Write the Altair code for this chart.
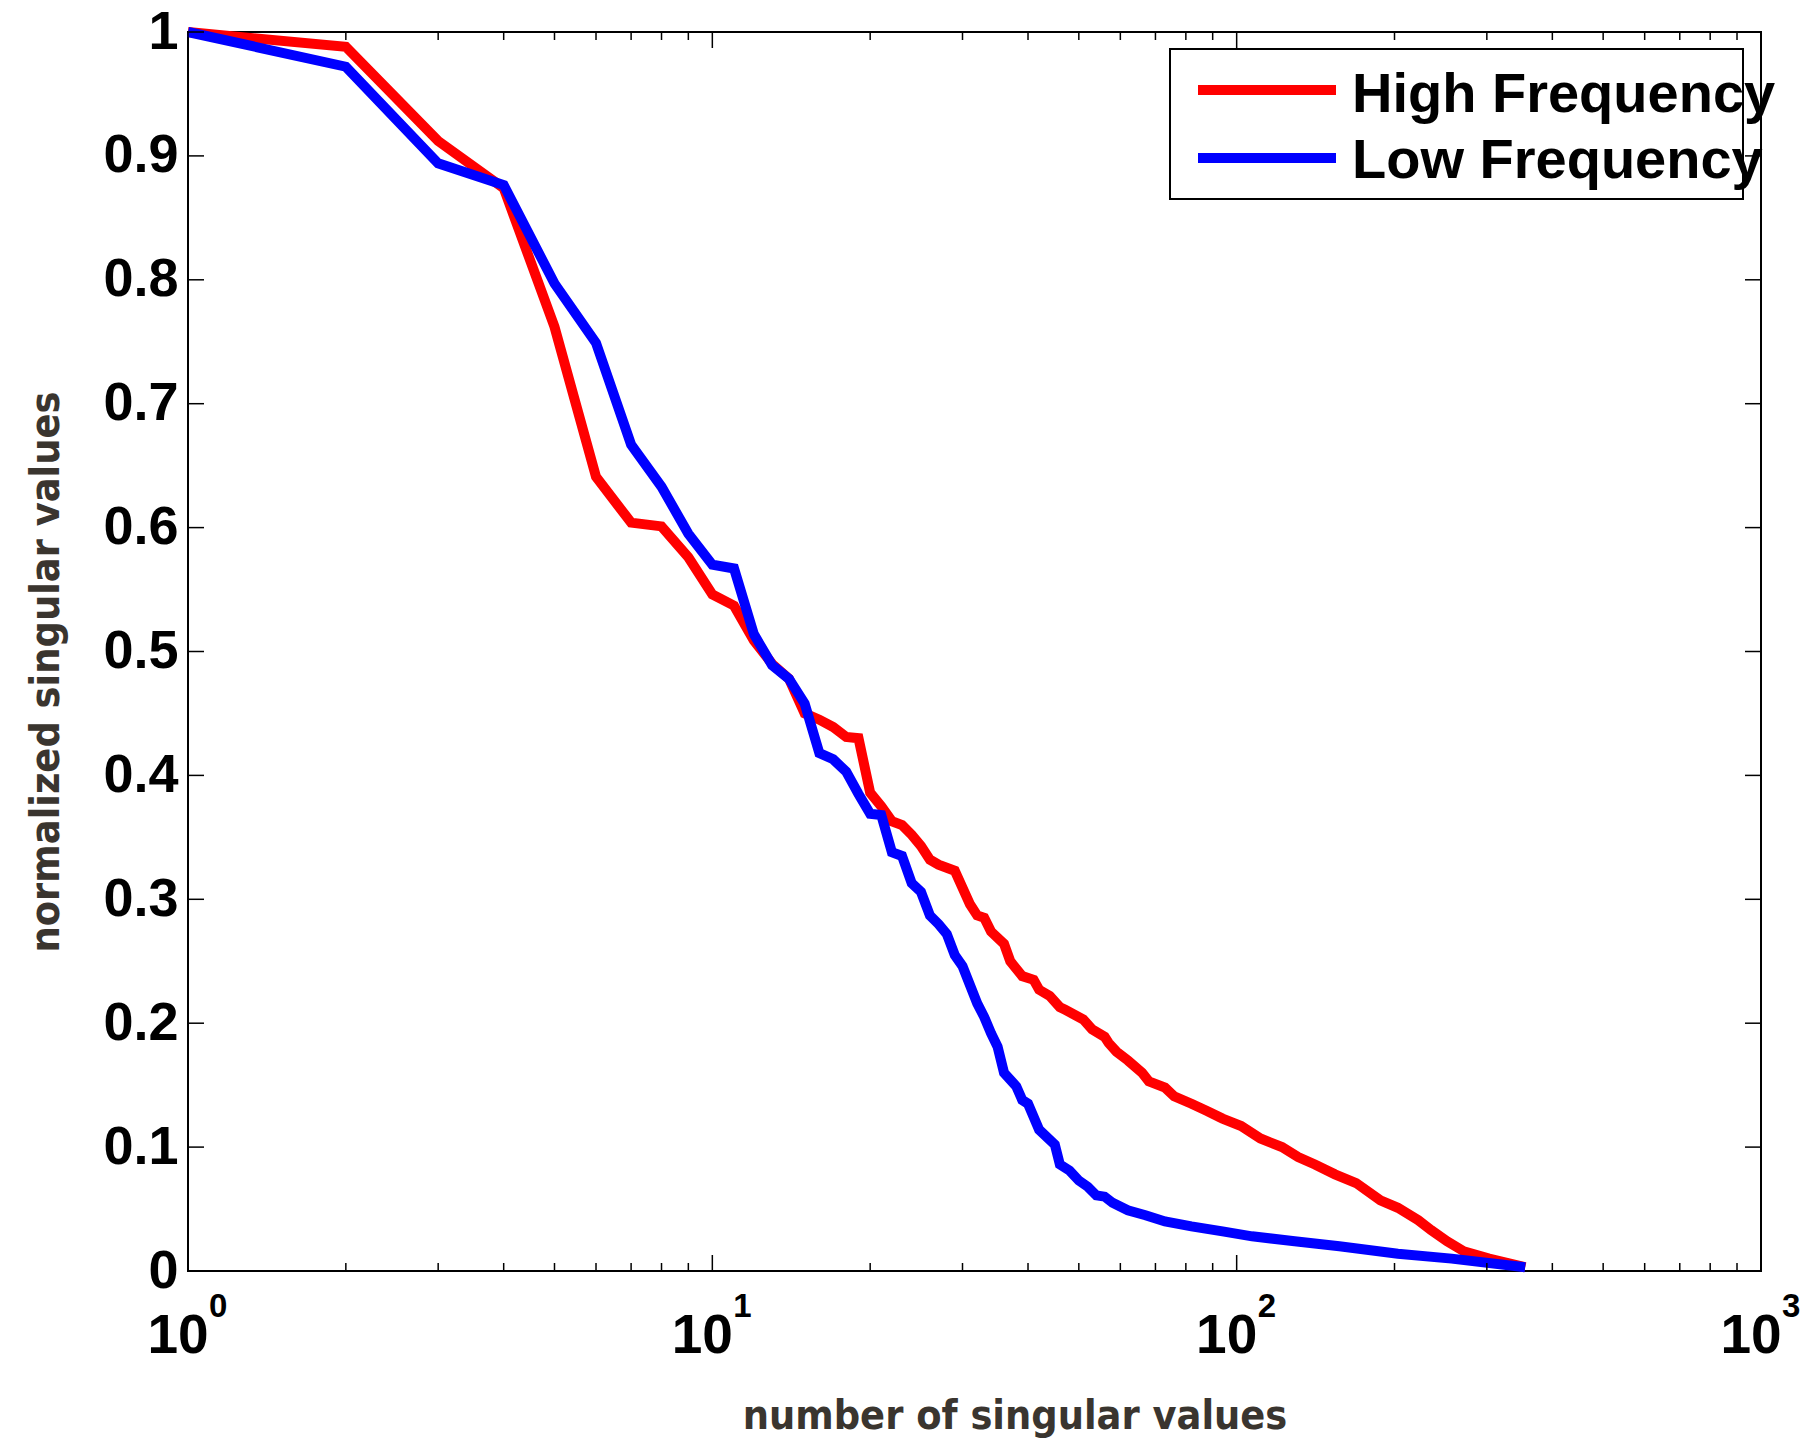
import altair as alt
import pandas as pd

SERIES = ["High Frequency", "Low Frequency"]
COLORS = ["#ff0000", "#0000ff"]

HF_X = [1, 2, 3, 4, 5, 6, 7, 8, 9, 10, 11, 12, 13, 14, 15, 16, 17, 18, 19, 20, 21, 22, 23, 24, 25, 26, 27,
        29, 31, 32, 33, 34, 36, 37, 39, 41, 42, 44, 46, 47, 51, 53, 56, 57, 59, 62, 66, 68, 73, 76, 82, 88,
        94, 102, 111, 122, 131, 141, 154, 169, 188, 203, 222, 235, 252, 271, 303, 355]
HF_Y = [1.0, 0.988, 0.912, 0.874, 0.762, 0.641, 0.604, 0.601, 0.576, 0.546, 0.537, 0.509, 0.490, 0.478,
        0.450, 0.445, 0.439, 0.431, 0.430, 0.386, 0.375, 0.363, 0.360, 0.352, 0.343, 0.332, 0.328,
        0.323, 0.296, 0.287, 0.285, 0.274, 0.264, 0.250, 0.238, 0.235, 0.227, 0.222, 0.213, 0.211,
        0.203, 0.195, 0.189, 0.184, 0.177, 0.170, 0.160, 0.153, 0.148, 0.141, 0.135, 0.129, 0.123,
        0.117, 0.107, 0.100, 0.092, 0.086, 0.078, 0.071, 0.057, 0.051, 0.041, 0.033, 0.024, 0.016,
        0.010, 0.003]

LF_X = [1, 2, 3, 4, 5, 6, 7, 8, 9, 10, 11, 12, 13, 14, 15, 16, 17, 18, 19, 20, 21, 22, 23, 24, 25, 26, 27,
        28, 29, 30, 32, 33, 34, 35, 36, 38, 39, 40, 42, 45, 46, 48, 50, 52, 54, 56, 58, 62, 67, 73, 82,
        94, 107, 129, 157, 203, 257, 355]
LF_Y = [1.0, 0.972, 0.894, 0.8765, 0.797, 0.749, 0.667, 0.633, 0.595, 0.570, 0.567, 0.514, 0.489, 0.478,
        0.458, 0.418, 0.413, 0.403, 0.385, 0.369, 0.368, 0.338, 0.335, 0.313, 0.306, 0.287, 0.280,
        0.272, 0.255, 0.246, 0.216, 0.205, 0.192, 0.181, 0.160, 0.149, 0.138, 0.135, 0.114, 0.102,
        0.086, 0.081, 0.073, 0.068, 0.061, 0.060, 0.055, 0.049, 0.045, 0.040, 0.036, 0.032, 0.028,
        0.024, 0.020, 0.014, 0.010, 0.003]

X_MAJOR = [1, 10, 100, 1000]
X_EXPONENTS = ["0", "1", "2", "3"]
X_MINOR = [2, 3, 4, 5, 6, 7, 8, 9, 20, 30, 40, 50, 60, 70, 80, 90, 200, 300, 400, 500, 600, 700, 800, 900]
Y_TICKS = [0, 0.1, 0.2, 0.3, 0.4, 0.5, 0.6, 0.7, 0.8, 0.9, 1]

X_TITLE = "number of singular values"
Y_TITLE = "normalized singular values"

W, H = 1573, 1239
FONT = "Liberation Sans"
TITLE_FONT = "Liberation Sans Narrow, DejaVu Sans Condensed, Liberation Sans"
TITLE_COLOR = "#3a352f"

xs = alt.Scale(type="log", domain=[1, 1000], nice=False)
ys = alt.Scale(domain=[0, 1], nice=False, zero=False)

hf = pd.DataFrame({"x": HF_X, "y": HF_Y})
lf = pd.DataFrame({"x": LF_X, "y": LF_Y})

y_axis = alt.Axis(values=Y_TICKS, format="~g", labelFont=FONT, labelFontWeight="bold", labelFontSize=54,
                  labelColor="black", labelPadding=10, ticks=False, domain=False, grid=False,
                  labelFlush=False, labelOverlap=False, title=None)
x_axis = alt.Axis(labels=False, ticks=False, domain=False, grid=False, title=None)

red = alt.Chart(hf).mark_line(color=COLORS[0], strokeWidth=10).encode(
    x=alt.X("x:Q", scale=xs, axis=x_axis),
    y=alt.Y("y:Q", scale=ys, axis=y_axis),
)
blue = alt.Chart(lf).mark_line(color=COLORS[1], strokeWidth=10).encode(
    x=alt.X("x:Q", scale=xs),
    y=alt.Y("y:Q", scale=ys),
)

major_df = pd.DataFrame({"x": X_MAJOR, "exp": X_EXPONENTS})
minor_df = pd.DataFrame({"x": X_MINOR})
yt_df = pd.DataFrame({"y": Y_TICKS})

def xticks(df, length):
    b = alt.Chart(df).mark_rule(color="black", strokeWidth=1.5).encode(
        x=alt.X("x:Q", scale=xs), y=alt.value(H), y2=alt.value(H - length))
    t = alt.Chart(df).mark_rule(color="black", strokeWidth=1.5).encode(
        x=alt.X("x:Q", scale=xs), y=alt.value(0), y2=alt.value(length))
    return b + t

yl = alt.Chart(yt_df).mark_rule(color="black", strokeWidth=1.5).encode(
    y=alt.Y("y:Q", scale=ys), x=alt.value(0), x2=alt.value(16))
yr = alt.Chart(yt_df).mark_rule(color="black", strokeWidth=1.5).encode(
    y=alt.Y("y:Q", scale=ys), x=alt.value(W), x2=alt.value(W - 16))

ten = alt.Chart(major_df).mark_text(text="10", font=FONT, fontWeight="bold", fontSize=55,
                                    align="center", baseline="alphabetic", dx=-10, color="black").encode(
    x=alt.X("x:Q", scale=xs), y=alt.value(1321))
exp = alt.Chart(major_df).mark_text(font=FONT, fontWeight="bold", fontSize=33,
                                    align="left", baseline="alphabetic", dx=21, color="black").encode(
    x=alt.X("x:Q", scale=xs), y=alt.value(1285), text="exp:N")

xtitle = alt.Chart(pd.DataFrame({"t": [X_TITLE]})).mark_text(
    font=TITLE_FONT, fontWeight="bold", fontSize=41, color=TITLE_COLOR, align="center",
    baseline="alphabetic").encode(
    x=alt.value(827), y=alt.value(1397), text="t:N")
ytitle = alt.Chart(pd.DataFrame({"t": [Y_TITLE]})).mark_text(
    font=TITLE_FONT, fontWeight="bold", fontSize=41, color=TITLE_COLOR, align="center", baseline="middle",
    angle=270).encode(
    x=alt.value(-141), y=alt.value(640), text="t:N")

# legend
leg_box = alt.Chart(pd.DataFrame({"a": [0]})).mark_rect(fill="white", stroke="black", strokeWidth=2).encode(
    x=alt.value(982), x2=alt.value(1555), y=alt.value(17), y2=alt.value(167))
leg_df = pd.DataFrame({"name": SERIES, "color": COLORS, "ly": [58, 126], "ty": [80, 146]})
leg_lines = alt.Chart(leg_df).mark_rule(strokeWidth=10).encode(
    x=alt.value(1010), x2=alt.value(1148), y=alt.Y("ly:Q", scale=None), color=alt.Color("color:N", scale=None))
leg_text = alt.Chart(leg_df).mark_text(font=FONT, fontWeight="bold", fontSize=56, align="left",
                                       baseline="alphabetic", color="black").encode(
    x=alt.value(1164), y=alt.Y("ty:Q", scale=None), text="name:N")

chart = alt.layer(
    red, blue,
    xticks(major_df, 16), xticks(minor_df, 8), yl, yr,
    ten, exp, xtitle, ytitle,
    leg_box, leg_lines, leg_text,
).properties(
    width=W, height=H,
    autosize=alt.AutoSizeParams(type="none"),
    padding={"left": 188, "top": 32, "right": 49, "bottom": 167},
    background="white",
).configure_view(stroke="black", strokeWidth=2)

chart.save("out.html", embed_options={"renderer": "svg", "actions": False})
